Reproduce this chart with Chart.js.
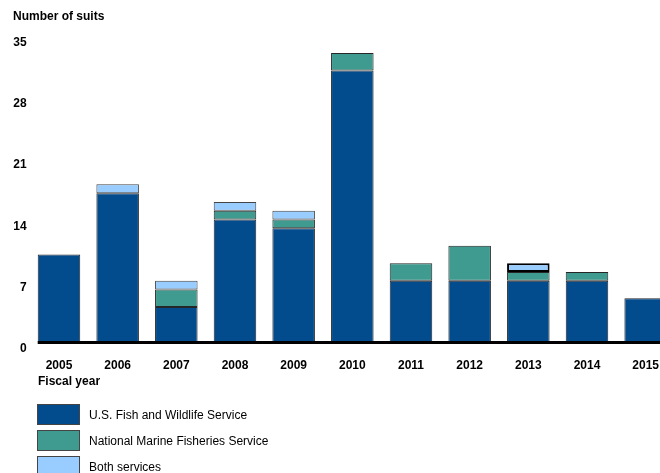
<!DOCTYPE html>
<html>
<head>
<meta charset="utf-8">
<script src="https://cdn.jsdelivr.net/npm/chart.js@4"></script>
<style>
  html, body { margin:0; padding:0; background:#fff; overflow:hidden; width:660px; height:473px; }
  body { position:relative; font-family:"Liberation Sans", Arial, sans-serif; color:#000; }
  #wrap { position:absolute; left:0; top:0; width:700px; height:473px; }
  .lbl { position:absolute; font-size:12px; font-weight:bold; white-space:nowrap; line-height:14px; }
  .leg { position:absolute; left:37px; height:21px; display:flex; align-items:center; font-size:12px; white-space:nowrap; }
  .leg .box { width:43px; height:21px; box-sizing:border-box; border:1px solid #444; margin-right:9px; }
</style>
</head>
<body>
<div id="wrap"><canvas id="c" width="700" height="473" style="width:700px;height:473px;"></canvas></div>
<div class="lbl" style="left:13px; top:9px;">Number of suits</div>
<div class="lbl" style="left:38px; top:374px;">Fiscal year</div>
<div id="legend"></div>
<script>
const years = ['2005','2006','2007','2008','2009','2010','2011','2012','2013','2014','2015'];
const fwsValues  = [10, 17, 4, 14, 13, 31, 7, 7, 7, 7, 5];
const nmfsValues = [0, 0, 2, 1, 1, 2, 2, 4, 1, 1, 0];
const bothValues = [0, 1, 1, 1, 1, 0, 0, 0, 1, 0, 0];
const yTicks = [0, 7, 14, 21, 28, 35];

const seriesNames = ['U.S. Fish and Wildlife Service', 'National Marine Fisheries Service', 'Both services'];
const seriesColors = ['#024B8C', '#3F9A8F', '#99CCFF'];

function bw(ctx) { return ctx.raw ? 1 : 0; }

const datasets = [
  { label: seriesNames[0], data: fwsValues, backgroundColor: seriesColors[0], borderColor: '#262626', borderWidth: bw },
  { label: seriesNames[1], data: nmfsValues, backgroundColor: seriesColors[1], borderColor: '#262626', borderWidth: bw },
  { label: seriesNames[2], data: bothValues, backgroundColor: seriesColors[2],
    borderColor: ctx => (ctx.dataIndex === 8 ? '#000' : '#444'),
    borderWidth: ctx => (ctx.raw ? (ctx.dataIndex === 8 ? 2 : 1) : 0) }
];

const baseline = {
  id: 'baseline',
  afterDatasetsDraw(chart) {
    const meta = chart.getDatasetMeta(0);
    const first = meta.data[0];
    const y = chart.scales.y.getPixelForValue(0);
    const ctx = chart.ctx;
    ctx.save();
    ctx.strokeStyle = '#000';
    ctx.lineWidth = 3;
    ctx.beginPath();
    ctx.moveTo(first.x - first.width / 2, y + 0.5);
    ctx.lineTo(chart.width, y + 0.5);
    ctx.stroke();
    ctx.restore();
  }
};

new Chart(document.getElementById('c'), {
  type: 'bar',
  data: { labels: years, datasets },
  plugins: [baseline],
  options: {
    responsive: false,
    animation: false,
    layout: { padding: { top: 35.5, left: 0, right: 25, bottom: 0 } },
    plugins: { legend: { display: false }, tooltip: { enabled: false }, title: { display: false } },
    datasets: { bar: { barPercentage: 0.725, categoryPercentage: 1.0, borderSkipped: false } },
    scales: {
      x: {
        stacked: true,
        grid: { display: false, drawTicks: false },
        border: { display: false },
        ticks: { color: '#000', font: { family: 'Liberation Sans', size: 12, weight: 'bold' }, padding: 16, maxRotation: 0 },
        afterFit(scale) { scale.height = 131; }
      },
      y: {
        stacked: true,
        min: 0, max: 35,
        grid: { display: false, drawTicks: false },
        border: { display: false },
        afterBuildTicks(scale) { scale.ticks = yTicks.map(v => ({ value: v })); },
        ticks: { color: '#000', font: { family: 'Liberation Sans', size: 12, weight: 'bold' }, padding: 3, labelOffset: 7 },
        afterFit(scale) { scale.width = 29.65; }
      }
    }
  }
});

const legend = document.getElementById('legend');
seriesNames.forEach((name, i) => {
  const row = document.createElement('div');
  row.className = 'leg';
  row.style.top = (404 + i * 26.2) + 'px';
  const box = document.createElement('div');
  box.className = 'box';
  box.style.background = seriesColors[i];
  const txt = document.createElement('span');
  txt.textContent = name;
  row.appendChild(box);
  row.appendChild(txt);
  legend.appendChild(row);
});
</script>
</body>
</html>
